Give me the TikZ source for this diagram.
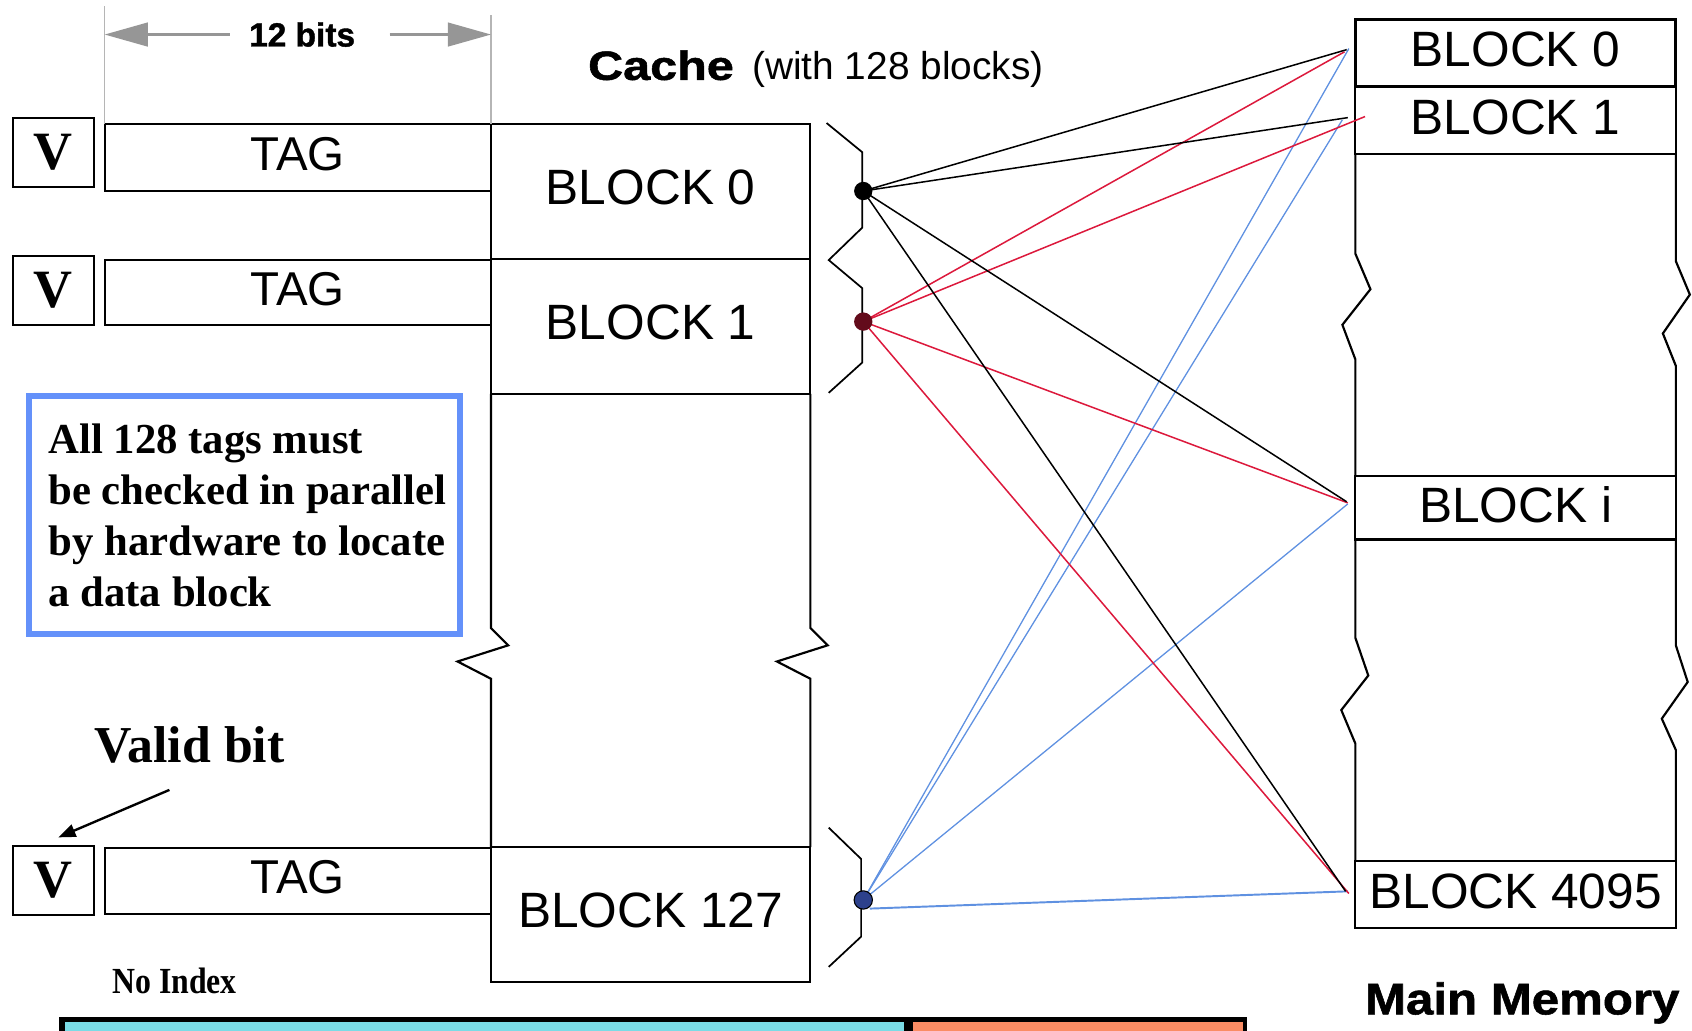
\documentclass[tikz,border=0pt]{standalone}
\usepackage{fontspec}
\usepackage{graphicx}
\setmainfont{Liberation Serif}
\setsansfont{Liberation Sans}
\newfontfamily\heavysans[FakeBold=1.2]{Liberation Sans}
\usetikzlibrary{arrows.meta}

\definecolor{linkred}{RGB}{220,25,60}
\definecolor{linkblue}{RGB}{95,145,225}
\definecolor{noteblue}{RGB}{100,145,250}
\definecolor{dimgray}{RGB}{150,150,150}
\definecolor{fieldcyan}{RGB}{122,220,230}
\definecolor{fieldsalmon}{RGB}{250,140,100}
\definecolor{dotblue}{RGB}{45,65,140}

\begin{document}
\begin{tikzpicture}[x=0.5pt,y=-0.5pt,
  every node/.style={inner sep=0pt,outer sep=0pt},
  vbit/.style={draw,line width=1pt,minimum width=37.5pt,minimum height=32pt,
    font=\bfseries\fontsize{25}{30}\selectfont},
  tagbox/.style={draw,line width=1pt,minimum width=179pt,text depth=3.5pt,
    font=\sffamily\fontsize{22}{26}\selectfont},
  cblock/.style={draw,line width=1pt,minimum width=148pt,minimum height=62.5pt,text depth=4pt,
    font=\sffamily\fontsize{23}{27}\selectfont},
  mblock/.style={draw,line width=1pt,minimum width=148.5pt,text depth=3pt,
    font=\sffamily\fontsize{23}{27}\selectfont},
  outline/.style={line width=1pt,line join=miter},
  bracket/.style={line width=0.8pt},
  dimthin/.style={draw=dimgray!70,line width=0.6pt},
  dimarrow/.style={draw=dimgray,fill=dimgray,line width=1pt,-{Triangle[length=20pt,width=11pt]}},
  blackwire/.style={draw=black,line width=0.7pt},
  redwire/.style={draw=linkred,line width=0.7pt},
  bluewire/.style={draw=linkblue,line width=0.6pt},
  dot/.style={circle,minimum size=8.5pt},
]
\useasboundingbox (0,0) rectangle (1568,955);
\clip (0,0) rectangle (1568,955);

% ---- tag entries with valid bits ----
\node[vbit] (v1) at (49.5,141) {V};
\node[vbit] (v2) at (49.5,269) {V};
\node[vbit] (v3) at (49.5,816) {V};

\node[tagbox,minimum height=31pt] (tag1) at (276,146) {TAG};
\node[tagbox,minimum height=30pt] (tag2) at (276,271) {TAG};
\node[tagbox,minimum height=30.5pt] (tag3) at (276,816.5) {TAG};

% ---- cache data blocks ----
\node[cblock] (cb0) at (603,177.5) {BLOCK 0};
\node[cblock] (cb1) at (603,302.5) {BLOCK 1};
\node[cblock] (cb127) at (603,847.5) {BLOCK 127};

% broken sides of the cache column
\draw[outline] (cb1.south west) -- (455,582) -- (471,598) -- (424,613) -- (455,629) -- (cb127.north west);
\draw[outline] (cb1.south east) -- (751,582) -- (767,598) -- (720,613) -- (751,629) -- (cb127.north east);

% ---- 12-bit dimension ----
\node[font=\heavysans\bfseries\fontsize{15.5}{18}\selectfont] (bits) at (280,32) {12 bits};
\draw[dimthin] (tag1.north west |- 0,6) -- (tag1.north west);
\draw[dimthin] (cb0.north west |- 0,14) -- (cb0.north west);
\draw[dimarrow] ([xshift=-9pt]bits.west) -- (tag1.north west |- bits.west);
\draw[dimarrow] ([xshift=16pt]bits.east) -- (cb0.north west |- bits.east);

% ---- titles ----
\node[anchor=base west] (cachettl) at (545,74)
  {\scalebox{1.25}[1.05]{\heavysans\bfseries\fontsize{18}{22}\selectfont Cache}};
\node[anchor=base west,font=\sffamily\fontsize{18}{22}\selectfont] (cachesub) at (697,74) {(with 128 blocks)};
\node[anchor=base west] (memttl) at (1265,940)
  {\scalebox{1.2}[1.08]{\heavysans\bfseries\fontsize{19}{23}\selectfont Main Memory}};

% ---- note ----
\node[draw=noteblue,line width=2.75pt,minimum width=199.75pt,minimum height=110.25pt] (note) at (226.5,477) {};
\node[anchor=north west,align=left,font=\bfseries\fontsize{19.8}{23.6}\selectfont] (notetext) at (45,393)
  {All 128 tags must\\be checked in parallel\\by hardware to locate\\a data block};

% ---- valid bit label ----
\node[anchor=base west,font=\bfseries\fontsize{24}{28}\selectfont] (validlbl) at (88,707) {Valid bit};
\coordinate (vtail) at (157,732);
\coordinate (vtip) at (54,776);
\draw[line width=1.1pt,-{Triangle[length=8pt,width=6pt]}] (vtail) -- (vtip);

\node[anchor=base west] (noindex) at (104,921)
  {\scalebox{0.95}[1.1]{\bfseries\fontsize{15.5}{18}\selectfont No Index}};

% ---- address field bar ----
\fill (55,942) rectangle (1156,965);
\fill[fieldcyan] (60,947) rectangle (838,965);
\fill[fieldsalmon] (846,947) rectangle (1152,965);

% ---- main memory column ----
\node[mblock,minimum height=31pt,line width=1.3pt] (mb0) at (1404.5,49) {BLOCK 0};
\node[mblock,minimum height=31.5pt] (mb1) at (1404.5,111.5) {BLOCK 1};
\node[mblock,minimum height=29.5pt] (mbi) at (1404.5,470.5) {BLOCK i};
\node[mblock,minimum height=31pt] (mb4095) at (1404.5,829) {BLOCK 4095};

\draw[outline] (mb1.south west) -- (1256,235) -- (1270,268) -- (1244,301) -- (1256,333) -- (mbi.north west);
\draw[outline] (mb1.south east) -- (1553,242) -- (1566,273) -- (1541,309) -- (1553,339) -- (mbi.north east);
\draw[outline] (mbi.south west) -- (1256,591) -- (1268,626) -- (1243,658) -- (1256,689) -- (mb4095.north west);
\draw[outline] (mbi.south east) -- (1553,598) -- (1564,632) -- (1540,666) -- (1553,695) -- (mb4095.north east);

% ---- brackets beside the cache ----
\draw[bracket] (766,114) -- (799,141) -- (799,211) -- (768,241) -- (799,267) -- (799,336) -- (768,364);
\draw[bracket] (768,767) -- (798,796) -- (798,868) -- (768,896);

% ---- mapping wires ----
\coordinate (pA) at (800,177);
\coordinate (pB) at (800,298);
\coordinate (pC) at (800,834);
\coordinate (pC2) at (806,842);

\coordinate (m0k) at (1248,46);
\coordinate (m1k) at (1249,109);
\coordinate (mik) at (1248,465);
\coordinate (m4k) at (1247,826);

\coordinate (m0r) at (1246,48);
\coordinate (m1r) at (1265,108);
\coordinate (mir) at (1249,466);
\coordinate (m4r) at (1250,828);

\coordinate (m0u) at (1250,45);
\coordinate (m1u) at (1244,111);
\coordinate (miu) at (1249,467);
\coordinate (m4u) at (1249,826);

\draw[bluewire] (pC) -- (m0u);
\draw[bluewire] (pC) -- (m1u);
\draw[bluewire] (pC) -- (miu);
\draw[bluewire,line width=0.9pt] (pC2) -- (m4u);

\draw[redwire] (pB) -- (m0r);
\draw[redwire] (pB) -- (m1r);
\draw[redwire] (pB) -- (mir);
\draw[redwire] (pB) -- (m4r);

\draw[blackwire] (pA) -- (m0k);
\draw[blackwire] (pA) -- (m1k);
\draw[blackwire] (pA) -- (mik);
\draw[blackwire] (pA) -- (m4k);

\node[dot,fill=black] (dA) at (pA) {};
\node[dot,fill=black!55!linkred] (dB) at (pB) {};
\node[dot,fill=dotblue,draw=black,line width=0.5pt] (dC) at (pC) {};
\end{tikzpicture}
\end{document}
